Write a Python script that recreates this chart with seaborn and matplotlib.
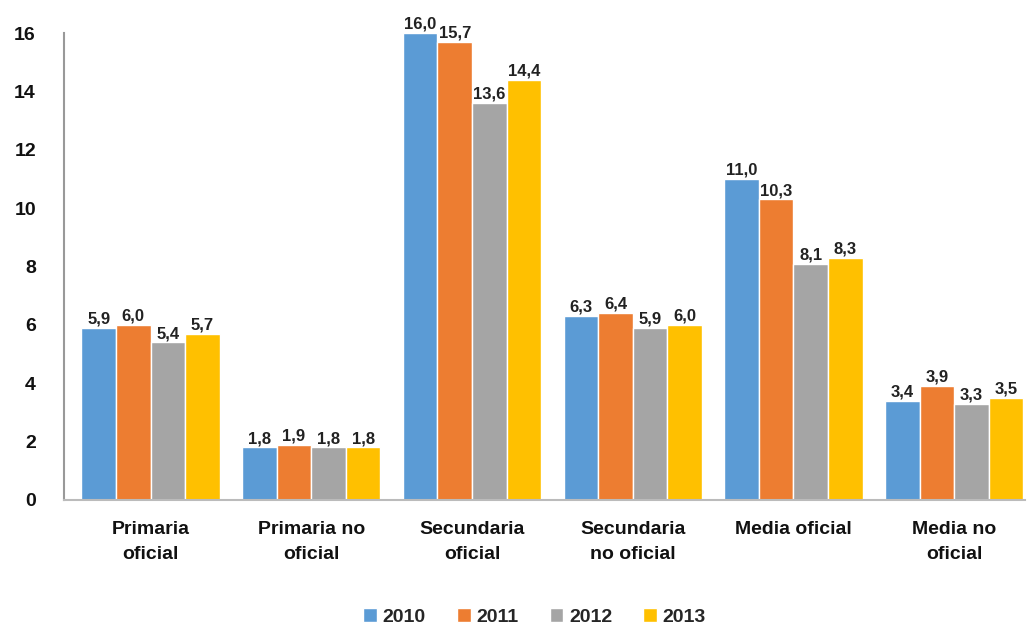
import pandas as pd
import matplotlib.pyplot as plt
import seaborn as sns

# Data
categories = ['Primaria\noficial', 'Primaria no\noficial', 'Secundaria\noficial',
              'Secundaria\nno oficial', 'Media oficial', 'Media no\noficial']
years = ['2010', '2011', '2012', '2013']
v2010 = [5.9, 1.8, 16.0, 6.3, 11.0, 3.4]
v2011 = [6.0, 1.9, 15.7, 6.4, 10.3, 3.9]
v2012 = [5.4, 1.8, 13.6, 5.9, 8.1, 3.3]
v2013 = [5.7, 1.8, 14.4, 6.0, 8.3, 3.5]
colors = ['#5B9BD5', '#ED7D31', '#A5A5A5', '#FFC000']

rows = []
for year, vals in zip(years, [v2010, v2011, v2012, v2013]):
    for cat, v in zip(categories, vals):
        rows.append({'categoria': cat, 'anio': year, 'valor': v})
df = pd.DataFrame(rows)

sns.set_theme(style="white")
plt.rcParams['font.family'] = ['Liberation Sans', 'DejaVu Sans']

fig = plt.figure(figsize=(10.28, 6.25), dpi=100)
ax = fig.add_axes([0.062, 0.2, 0.935, 0.747])

sns.barplot(data=df, x='categoria', y='valor', hue='anio', palette=colors,
            width=0.86, saturation=1, ax=ax, order=categories, hue_order=years)

# value labels with comma decimals
for cont in ax.containers:
    labels = [f"{b.get_height():.1f}".replace('.', ',') for b in cont]
    ax.bar_label(cont, labels=labels, padding=1, fontsize=12, fontweight='bold',
                 color='#222222')

ax.set_ylim(0, 16)
ax.set_yticks(range(0, 17, 2))
ax.set_xlim(-0.54, 5.44)
ax.set_xlabel('')
ax.set_ylabel('')
ax.tick_params(axis='y', labelsize=14, length=0, pad=20)
ax.tick_params(axis='x', labelsize=14, length=0, pad=15)
for lbl in ax.get_yticklabels():
    lbl.set_fontweight('bold')
    lbl.set_color('#111111')
for lbl in ax.get_xticklabels():
    lbl.set_fontweight('bold')
    lbl.set_color('#111111')
    lbl.set_linespacing(1.65)

for s in ['top', 'right']:
    ax.spines[s].set_visible(False)
ax.spines['left'].set_color('#999999')
ax.spines['bottom'].set_color('#BBBBBB')
ax.spines['left'].set_linewidth(1.5)
ax.spines['bottom'].set_linewidth(1.5)

leg = ax.legend(loc='center', bbox_to_anchor=(0.49, -0.25), ncol=4, frameon=False,
                handlelength=0.7, handleheight=0.7, handletextpad=0.3,
                columnspacing=1.6, prop={'weight': 'bold', 'size': 14})

fig.savefig('out.png', dpi=100)
